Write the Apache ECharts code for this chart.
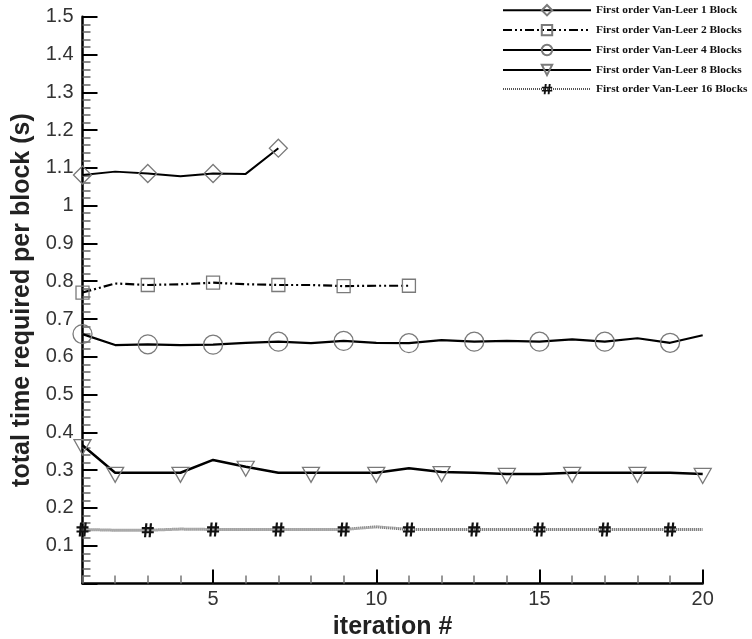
<!DOCTYPE html>
<html>
<head>
<meta charset="utf-8">
<script src="https://cdn.jsdelivr.net/npm/echarts@6/dist/echarts.min.js"></script>
<style>
  html, body { margin: 0; padding: 0; background: #fff; }
  #chart { width: 752px; height: 639px; }
</style>
</head>
<body>
<div id="chart"></div>
<script>
// Iteration numbers on the x axis
const iterations = [1, 2, 3, 4, 5, 6, 7, 8, 9, 10, 11, 12, 13, 14, 15, 16, 17, 18, 19, 20];

// Total time required per block (s) for each partitioning
const block1 = [1.081, 1.090, 1.085, 1.078, 1.085, 1.084, 1.152];
const block2 = [0.770, 0.794, 0.790, 0.792, 0.796, 0.792, 0.790, 0.790, 0.787, 0.788, 0.788];
const block4 = [0.660, 0.631, 0.633, 0.631, 0.632, 0.637, 0.640, 0.636, 0.642, 0.637,
                0.636, 0.644, 0.640, 0.642, 0.640, 0.646, 0.640, 0.649, 0.637, 0.657];
const block8 = [0.366, 0.293, 0.293, 0.293, 0.327, 0.309, 0.293, 0.293, 0.293, 0.293,
                0.305, 0.295, 0.293, 0.290, 0.290, 0.293, 0.293, 0.293, 0.293, 0.290];
const block16 = [0.143, 0.141, 0.141, 0.144, 0.143, 0.143, 0.143, 0.143, 0.143, 0.150,
                 0.143, 0.143, 0.143, 0.143, 0.143, 0.143, 0.143, 0.143, 0.143, 0.143];

// Iterations that carry a symbol on each curve
const marks1 = [1, 3, 5, 7];
const marks2 = [1, 3, 5, 7, 9, 11];
const marks4 = [1, 3, 5, 7, 9, 11, 13, 15, 17, 19];
const marks8 = [1, 2, 4, 6, 8, 10, 12, 14, 16, 18, 20];
const marks16 = [1, 3, 5, 7, 9, 11, 13, 15, 17, 19];

const seriesNames = [
  'First order Van-Leer 1 Block',
  'First order Van-Leer 2 Blocks',
  'First order Van-Leer 4 Blocks',
  'First order Van-Leer 8 Blocks',
  'First order Van-Leer 16 Blocks'
];

// Major x ticks
const xMajorTicks = [5, 10, 15, 20];

const hashPath = 'path://M3.2,0 L5.2,0 L4,12 L2,12 Z M7.4,0 L9.4,0 L8.2,12 L6.2,12 Z M0,3.3 L11,3.3 L11,5.1 L0,5.1 Z M0,6.9 L11,6.9 L11,8.7 L0,8.7 Z';

function points(values, marks) {
  return values.map((v, i) => {
    const it = iterations[i];
    const item = { value: [it, v] };
    if (marks.indexOf(it) < 0) item.symbol = 'none';
    return item;
  });
}

const hollow = { color: 'rgba(255,255,255,0)', borderColor: '#7a7a7a', borderWidth: 1.3 };
const sans = 'Liberation Sans';

const chart = echarts.init(document.getElementById('chart'), null, { renderer: 'canvas' });

chart.setOption({
  animation: false,
  backgroundColor: '#ffffff',
  grid: { left: 82.5, right: 49.3, top: 16.7, bottom: 55.5, containLabel: false, outerBoundsMode: 'none' },
  legend: {
    orient: 'vertical',
    left: 497,
    top: 0,
    padding: [4, 5, 5, 5],
    itemWidth: 88,
    itemHeight: 13,
    itemGap: 7.5,
    data: seriesNames,
    textStyle: {
      fontFamily: 'Liberation Serif',
      fontWeight: 'bold',
      fontSize: 11.4,
      color: '#111'
    }
  },
  xAxis: [
    {
      type: 'value',
      min: 1,
      max: 20,
      interval: 1,
      name: 'iteration #',
      nameLocation: 'middle',
      nameGap: 24,
      nameTextStyle: { fontFamily: sans, fontWeight: 'bold', fontSize: 25, color: '#222' },
      axisLine: { show: true, onZero: false, lineStyle: { color: '#000', width: 2.5 } },
      axisTick: { show: true, inside: true, length: 8, lineStyle: { color: '#777', width: 1.5 } },
      axisLabel: {
        fontFamily: sans, fontSize: 20, color: '#333', margin: 6,
        formatter: v => (v % 5 === 0 ? String(v) : '')
      },
      splitLine: { show: false }
    },
    {
      type: 'value',
      min: 1,
      max: 20,
      position: 'bottom',
      axisLine: { show: false },
      axisTick: { show: true, inside: true, length: 14, customValues: xMajorTicks, lineStyle: { color: '#000', width: 2 } },
      axisLabel: { show: false },
      splitLine: { show: false }
    }
  ],
  yAxis: {
    type: 'value',
    min: 0,
    max: 1.5,
    interval: 0.1,
    name: 'total time required per block (s)',
    nameLocation: 'middle',
    nameGap: 48,
    nameRotate: 90,
    nameTextStyle: { fontFamily: sans, fontWeight: 'bold', fontSize: 25, color: '#222' },
    axisLine: { show: true, onZero: false, lineStyle: { color: '#000', width: 2.5 } },
    axisTick: { show: true, inside: true, length: 15, lineStyle: { color: '#000', width: 2 } },
    minorTick: { show: true, splitNumber: 5, length: 8, lineStyle: { color: '#666', width: 1.5 } },
    axisLabel: {
      fontFamily: sans, fontSize: 20, color: '#333', margin: 9,
      formatter: v => (v < 0.05 ? '' : String(+v.toFixed(1)))
    },
    splitLine: { show: false }
  },
  series: [
    {
      name: seriesNames[0], type: 'line', data: points(block1, marks1),
      symbol: 'diamond', symbolSize: [18, 18], showAllSymbol: true,
      lineStyle: { color: '#000', width: 2 }, itemStyle: hollow
    },
    {
      name: seriesNames[1], type: 'line', data: points(block2, marks2),
      symbol: 'rect', symbolSize: 13, showAllSymbol: true,
      lineStyle: { color: '#000', width: 2.2, type: [9, 3, 2, 3, 2, 3] }, itemStyle: hollow
    },
    {
      name: seriesNames[2], type: 'line', data: points(block4, marks4),
      symbol: 'circle', symbolSize: 19, showAllSymbol: true,
      lineStyle: { color: '#000', width: 2.2 }, itemStyle: hollow
    },
    {
      name: seriesNames[3], type: 'line', data: points(block8, marks8),
      symbol: 'triangle', symbolRotate: 180, symbolSize: [17, 15], symbolOffset: [0, 2], showAllSymbol: true,
      lineStyle: { color: '#000', width: 2.5 }, itemStyle: hollow
    },
    {
      name: seriesNames[4], type: 'line', data: points(block16, marks16),
      symbol: hashPath, symbolSize: [12, 14], showAllSymbol: true,
      lineStyle: { color: '#555', width: 3, type: [1, 1] },
      itemStyle: { color: '#111', borderWidth: 0 }
    }
  ]
});
</script>
</body>
</html>
